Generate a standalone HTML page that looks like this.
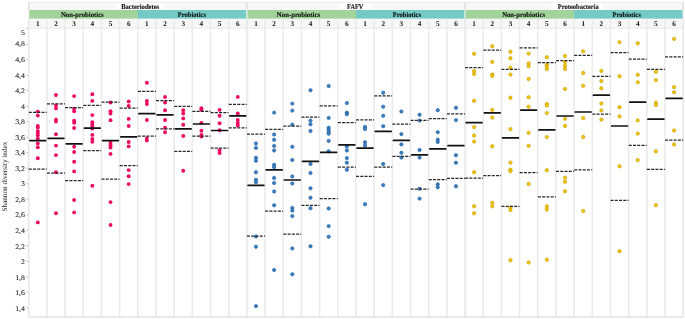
<!DOCTYPE html><html><head><meta charset="utf-8"><style>
html,body{margin:0;padding:0;background:#fff;width:685px;height:319px;overflow:hidden;}
svg{display:block;will-change:transform;}
text{text-rendering:geometricPrecision;}
.ser{font-family:"Liberation Serif",serif;font-weight:bold;}
.serr{font-family:"Liberation Serif",serif;}
.san{font-family:"Liberation Sans",sans-serif;}
</style></head><body>
<svg width="685" height="319" viewBox="0 0 685 319">
<rect x="0" y="0" width="685" height="319" fill="#fff"/>
<rect x="28.70" y="2.0" width="654.48" height="8.0" fill="#f8f8f8"/>
<rect x="116.5" y="3" width="47.0" height="6.8" rx="2" fill="#fff"/>
<rect x="339.5" y="3" width="32.0" height="6.8" rx="2" fill="#fff"/>
<rect x="551.5" y="3" width="51.5" height="6.8" rx="2" fill="#fff"/>
<rect x="28.70" y="10.0" width="110.08" height="8.8" fill="#a2d39b"/>
<rect x="137.78" y="10.0" width="109.08" height="8.8" fill="#74cbc6"/>
<rect x="246.86" y="10.0" width="110.08" height="8.8" fill="#a2d39b"/>
<rect x="355.94" y="10.0" width="109.08" height="8.8" fill="#74cbc6"/>
<rect x="465.02" y="10.0" width="110.08" height="8.8" fill="#a2d39b"/>
<rect x="574.10" y="10.0" width="109.08" height="8.8" fill="#74cbc6"/>
<rect x="28.70" y="18.8" width="654.48" height="8.8" fill="#f7f7f7"/>
<rect x="27.90" y="2.0" width="1.6" height="8.00" fill="#e0e0e0"/>
<rect x="28.10" y="10.0" width="1.2" height="8.80" fill="#eef5ee"/>
<rect x="27.90" y="18.8" width="1.6" height="298.20" fill="#e8e8e8"/>
<rect x="46.08" y="18.8" width="1.6" height="298.20" fill="#ebebeb"/>
<rect x="64.26" y="18.8" width="1.6" height="298.20" fill="#ebebeb"/>
<rect x="82.44" y="18.8" width="1.6" height="298.20" fill="#ebebeb"/>
<rect x="100.62" y="18.8" width="1.6" height="298.20" fill="#ebebeb"/>
<rect x="118.80" y="18.8" width="1.6" height="298.20" fill="#ebebeb"/>
<rect x="136.98" y="18.8" width="1.6" height="298.20" fill="#ebebeb"/>
<rect x="155.16" y="18.8" width="1.6" height="298.20" fill="#ebebeb"/>
<rect x="173.34" y="18.8" width="1.6" height="298.20" fill="#ebebeb"/>
<rect x="191.52" y="18.8" width="1.6" height="298.20" fill="#ebebeb"/>
<rect x="209.70" y="18.8" width="1.6" height="298.20" fill="#ebebeb"/>
<rect x="227.88" y="18.8" width="1.6" height="298.20" fill="#ebebeb"/>
<rect x="246.06" y="2.0" width="1.6" height="8.00" fill="#e0e0e0"/>
<rect x="246.26" y="10.0" width="1.2" height="8.80" fill="#eef5ee"/>
<rect x="246.06" y="18.8" width="1.6" height="298.20" fill="#e8e8e8"/>
<rect x="247.66" y="27.6" width="0.7" height="289.40" fill="#f2f2f2"/>
<rect x="264.24" y="18.8" width="1.6" height="298.20" fill="#ebebeb"/>
<rect x="282.42" y="18.8" width="1.6" height="298.20" fill="#ebebeb"/>
<rect x="300.60" y="18.8" width="1.6" height="298.20" fill="#ebebeb"/>
<rect x="318.78" y="18.8" width="1.6" height="298.20" fill="#ebebeb"/>
<rect x="336.96" y="18.8" width="1.6" height="298.20" fill="#ebebeb"/>
<rect x="355.14" y="18.8" width="1.6" height="298.20" fill="#ebebeb"/>
<rect x="373.32" y="18.8" width="1.6" height="298.20" fill="#ebebeb"/>
<rect x="391.50" y="18.8" width="1.6" height="298.20" fill="#ebebeb"/>
<rect x="409.68" y="18.8" width="1.6" height="298.20" fill="#ebebeb"/>
<rect x="427.86" y="18.8" width="1.6" height="298.20" fill="#ebebeb"/>
<rect x="446.04" y="18.8" width="1.6" height="298.20" fill="#ebebeb"/>
<rect x="464.22" y="2.0" width="1.6" height="8.00" fill="#e0e0e0"/>
<rect x="464.42" y="10.0" width="1.2" height="8.80" fill="#eef5ee"/>
<rect x="464.22" y="18.8" width="1.6" height="298.20" fill="#e8e8e8"/>
<rect x="465.82" y="27.6" width="0.7" height="289.40" fill="#f2f2f2"/>
<rect x="482.40" y="18.8" width="1.6" height="298.20" fill="#ebebeb"/>
<rect x="500.58" y="18.8" width="1.6" height="298.20" fill="#ebebeb"/>
<rect x="518.76" y="18.8" width="1.6" height="298.20" fill="#ebebeb"/>
<rect x="536.94" y="18.8" width="1.6" height="298.20" fill="#ebebeb"/>
<rect x="555.12" y="18.8" width="1.6" height="298.20" fill="#ebebeb"/>
<rect x="573.30" y="18.8" width="1.6" height="298.20" fill="#ebebeb"/>
<rect x="591.48" y="18.8" width="1.6" height="298.20" fill="#ebebeb"/>
<rect x="609.66" y="18.8" width="1.6" height="298.20" fill="#ebebeb"/>
<rect x="627.84" y="18.8" width="1.6" height="298.20" fill="#ebebeb"/>
<rect x="646.02" y="18.8" width="1.6" height="298.20" fill="#ebebeb"/>
<rect x="664.20" y="18.8" width="1.6" height="298.20" fill="#ebebeb"/>
<rect x="682.38" y="2.0" width="1.6" height="8.00" fill="#e0e0e0"/>
<rect x="682.58" y="10.0" width="1.2" height="8.80" fill="#eef5ee"/>
<rect x="682.38" y="18.8" width="1.6" height="298.20" fill="#e8e8e8"/>
<rect x="28.70" y="2.0" width="654.48" height="0.8" fill="#e6e6e6"/>
<rect x="28.70" y="27.6" width="654.48" height="0.9" fill="#e4e4e4"/>
<rect x="28.70" y="316.4" width="654.48" height="1.2" fill="#dcdcdc"/>
<text class="ser" x="121.15" y="8.7" font-size="7.1" textLength="38.0" lengthAdjust="spacingAndGlyphs" fill="#111" stroke="#111" stroke-width="0.12">Bacteriodetes</text>
<text class="ser" x="347.05" y="8.7" font-size="7.1" textLength="16.4" lengthAdjust="spacingAndGlyphs" fill="#111" stroke="#111" stroke-width="0.12">FAFV</text>
<text class="ser" x="557.85" y="8.7" font-size="7.1" textLength="40.9" lengthAdjust="spacingAndGlyphs" fill="#111" stroke="#111" stroke-width="0.12">Proteobacteria</text>
<text class="ser" x="60.95" y="16.9" font-size="7.1" textLength="42.80" lengthAdjust="spacingAndGlyphs" fill="#111" stroke="#111" stroke-width="0.12">Non-probiotics</text>
<text class="ser" x="177.85" y="16.9" font-size="7.1" textLength="28.10" lengthAdjust="spacingAndGlyphs" fill="#111" stroke="#111" stroke-width="0.12">Probiotics</text>
<text class="ser" x="276.85" y="16.9" font-size="7.1" textLength="43.20" lengthAdjust="spacingAndGlyphs" fill="#111" stroke="#111" stroke-width="0.12">Non-probiotics</text>
<text class="ser" x="392.85" y="16.9" font-size="7.1" textLength="28.10" lengthAdjust="spacingAndGlyphs" fill="#111" stroke="#111" stroke-width="0.12">Probiotics</text>
<text class="ser" x="502.15" y="16.9" font-size="7.1" textLength="42.90" lengthAdjust="spacingAndGlyphs" fill="#111" stroke="#111" stroke-width="0.12">Non-probiotics</text>
<text class="ser" x="612.45" y="16.9" font-size="7.1" textLength="28.30" lengthAdjust="spacingAndGlyphs" fill="#111" stroke="#111" stroke-width="0.12">Probiotics</text>
<text class="ser" x="37.79" y="26.1" font-size="7.2" text-anchor="middle" fill="#151515">1</text>
<text class="ser" x="55.97" y="26.1" font-size="7.2" text-anchor="middle" fill="#151515">2</text>
<text class="ser" x="74.15" y="26.1" font-size="7.2" text-anchor="middle" fill="#151515">3</text>
<text class="ser" x="92.33" y="26.1" font-size="7.2" text-anchor="middle" fill="#151515">4</text>
<text class="ser" x="110.51" y="26.1" font-size="7.2" text-anchor="middle" fill="#151515">5</text>
<text class="ser" x="128.69" y="26.1" font-size="7.2" text-anchor="middle" fill="#151515">6</text>
<text class="ser" x="146.87" y="26.1" font-size="7.2" text-anchor="middle" fill="#151515">1</text>
<text class="ser" x="165.05" y="26.1" font-size="7.2" text-anchor="middle" fill="#151515">2</text>
<text class="ser" x="183.23" y="26.1" font-size="7.2" text-anchor="middle" fill="#151515">3</text>
<text class="ser" x="201.41" y="26.1" font-size="7.2" text-anchor="middle" fill="#151515">4</text>
<text class="ser" x="219.59" y="26.1" font-size="7.2" text-anchor="middle" fill="#151515">5</text>
<text class="ser" x="237.77" y="26.1" font-size="7.2" text-anchor="middle" fill="#151515">6</text>
<text class="ser" x="255.95" y="26.1" font-size="7.2" text-anchor="middle" fill="#151515">1</text>
<text class="ser" x="274.13" y="26.1" font-size="7.2" text-anchor="middle" fill="#151515">2</text>
<text class="ser" x="292.31" y="26.1" font-size="7.2" text-anchor="middle" fill="#151515">3</text>
<text class="ser" x="310.49" y="26.1" font-size="7.2" text-anchor="middle" fill="#151515">4</text>
<text class="ser" x="328.67" y="26.1" font-size="7.2" text-anchor="middle" fill="#151515">5</text>
<text class="ser" x="346.85" y="26.1" font-size="7.2" text-anchor="middle" fill="#151515">6</text>
<text class="ser" x="365.03" y="26.1" font-size="7.2" text-anchor="middle" fill="#151515">1</text>
<text class="ser" x="383.21" y="26.1" font-size="7.2" text-anchor="middle" fill="#151515">2</text>
<text class="ser" x="401.39" y="26.1" font-size="7.2" text-anchor="middle" fill="#151515">3</text>
<text class="ser" x="419.57" y="26.1" font-size="7.2" text-anchor="middle" fill="#151515">4</text>
<text class="ser" x="437.75" y="26.1" font-size="7.2" text-anchor="middle" fill="#151515">5</text>
<text class="ser" x="455.93" y="26.1" font-size="7.2" text-anchor="middle" fill="#151515">6</text>
<text class="ser" x="474.11" y="26.1" font-size="7.2" text-anchor="middle" fill="#151515">1</text>
<text class="ser" x="492.29" y="26.1" font-size="7.2" text-anchor="middle" fill="#151515">2</text>
<text class="ser" x="510.47" y="26.1" font-size="7.2" text-anchor="middle" fill="#151515">3</text>
<text class="ser" x="528.65" y="26.1" font-size="7.2" text-anchor="middle" fill="#151515">4</text>
<text class="ser" x="546.83" y="26.1" font-size="7.2" text-anchor="middle" fill="#151515">5</text>
<text class="ser" x="565.01" y="26.1" font-size="7.2" text-anchor="middle" fill="#151515">6</text>
<text class="ser" x="583.19" y="26.1" font-size="7.2" text-anchor="middle" fill="#151515">1</text>
<text class="ser" x="601.37" y="26.1" font-size="7.2" text-anchor="middle" fill="#151515">2</text>
<text class="ser" x="619.55" y="26.1" font-size="7.2" text-anchor="middle" fill="#151515">3</text>
<text class="ser" x="637.73" y="26.1" font-size="7.2" text-anchor="middle" fill="#151515">4</text>
<text class="ser" x="655.91" y="26.1" font-size="7.2" text-anchor="middle" fill="#151515">5</text>
<text class="ser" x="674.09" y="26.1" font-size="7.2" text-anchor="middle" fill="#151515">6</text>
<rect x="26.2" y="28.10" width="2.2" height="1" fill="#c8c8c8"/>
<text class="serr" x="0" y="0" transform="translate(25.0,35.40) scale(1.12,1)" font-size="7.0" text-anchor="end" fill="#1a1a1a" stroke="#1a1a1a" stroke-width="0.08">5</text>
<rect x="26.2" y="43.62" width="2.2" height="1" fill="#c8c8c8"/>
<text class="serr" x="0" y="0" transform="translate(25.0,46.47) scale(1.12,1)" font-size="7.0" text-anchor="end" fill="#1a1a1a" stroke="#1a1a1a" stroke-width="0.08">4,8</text>
<rect x="26.2" y="59.14" width="2.2" height="1" fill="#c8c8c8"/>
<text class="serr" x="0" y="0" transform="translate(25.0,61.99) scale(1.12,1)" font-size="7.0" text-anchor="end" fill="#1a1a1a" stroke="#1a1a1a" stroke-width="0.08">4,6</text>
<rect x="26.2" y="74.66" width="2.2" height="1" fill="#c8c8c8"/>
<text class="serr" x="0" y="0" transform="translate(25.0,77.51) scale(1.12,1)" font-size="7.0" text-anchor="end" fill="#1a1a1a" stroke="#1a1a1a" stroke-width="0.08">4,4</text>
<rect x="26.2" y="90.18" width="2.2" height="1" fill="#c8c8c8"/>
<text class="serr" x="0" y="0" transform="translate(25.0,93.03) scale(1.12,1)" font-size="7.0" text-anchor="end" fill="#1a1a1a" stroke="#1a1a1a" stroke-width="0.08">4,2</text>
<rect x="26.2" y="105.70" width="2.2" height="1" fill="#c8c8c8"/>
<text class="serr" x="0" y="0" transform="translate(25.0,108.55) scale(1.12,1)" font-size="7.0" text-anchor="end" fill="#1a1a1a" stroke="#1a1a1a" stroke-width="0.08">4</text>
<rect x="26.2" y="121.22" width="2.2" height="1" fill="#c8c8c8"/>
<text class="serr" x="0" y="0" transform="translate(25.0,124.07) scale(1.12,1)" font-size="7.0" text-anchor="end" fill="#1a1a1a" stroke="#1a1a1a" stroke-width="0.08">3,8</text>
<rect x="26.2" y="136.74" width="2.2" height="1" fill="#c8c8c8"/>
<text class="serr" x="0" y="0" transform="translate(25.0,139.59) scale(1.12,1)" font-size="7.0" text-anchor="end" fill="#1a1a1a" stroke="#1a1a1a" stroke-width="0.08">3,6</text>
<rect x="26.2" y="152.26" width="2.2" height="1" fill="#c8c8c8"/>
<text class="serr" x="0" y="0" transform="translate(25.0,155.11) scale(1.12,1)" font-size="7.0" text-anchor="end" fill="#1a1a1a" stroke="#1a1a1a" stroke-width="0.08">3,4</text>
<rect x="26.2" y="167.78" width="2.2" height="1" fill="#c8c8c8"/>
<text class="serr" x="0" y="0" transform="translate(25.0,170.63) scale(1.12,1)" font-size="7.0" text-anchor="end" fill="#1a1a1a" stroke="#1a1a1a" stroke-width="0.08">3,2</text>
<rect x="26.2" y="183.30" width="2.2" height="1" fill="#c8c8c8"/>
<text class="serr" x="0" y="0" transform="translate(25.0,186.15) scale(1.12,1)" font-size="7.0" text-anchor="end" fill="#1a1a1a" stroke="#1a1a1a" stroke-width="0.08">3</text>
<rect x="26.2" y="198.82" width="2.2" height="1" fill="#c8c8c8"/>
<text class="serr" x="0" y="0" transform="translate(25.0,201.75) scale(1.12,1)" font-size="7.0" text-anchor="end" fill="#1a1a1a" stroke="#1a1a1a" stroke-width="0.08">2,8</text>
<rect x="26.2" y="214.34" width="2.2" height="1" fill="#c8c8c8"/>
<text class="serr" x="0" y="0" transform="translate(25.0,217.34) scale(1.12,1)" font-size="7.0" text-anchor="end" fill="#1a1a1a" stroke="#1a1a1a" stroke-width="0.08">2,6</text>
<rect x="26.2" y="229.86" width="2.2" height="1" fill="#c8c8c8"/>
<text class="serr" x="0" y="0" transform="translate(25.0,232.94) scale(1.12,1)" font-size="7.0" text-anchor="end" fill="#1a1a1a" stroke="#1a1a1a" stroke-width="0.08">2,4</text>
<rect x="26.2" y="245.38" width="2.2" height="1" fill="#c8c8c8"/>
<text class="serr" x="0" y="0" transform="translate(25.0,248.53) scale(1.12,1)" font-size="7.0" text-anchor="end" fill="#1a1a1a" stroke="#1a1a1a" stroke-width="0.08">2,2</text>
<rect x="26.2" y="260.90" width="2.2" height="1" fill="#c8c8c8"/>
<text class="serr" x="0" y="0" transform="translate(25.0,264.12) scale(1.12,1)" font-size="7.0" text-anchor="end" fill="#1a1a1a" stroke="#1a1a1a" stroke-width="0.08">2</text>
<rect x="26.2" y="276.42" width="2.2" height="1" fill="#c8c8c8"/>
<text class="serr" x="0" y="0" transform="translate(25.0,279.72) scale(1.12,1)" font-size="7.0" text-anchor="end" fill="#1a1a1a" stroke="#1a1a1a" stroke-width="0.08">1,8</text>
<rect x="26.2" y="291.94" width="2.2" height="1" fill="#c8c8c8"/>
<text class="serr" x="0" y="0" transform="translate(25.0,295.31) scale(1.12,1)" font-size="7.0" text-anchor="end" fill="#1a1a1a" stroke="#1a1a1a" stroke-width="0.08">1,6</text>
<rect x="26.2" y="307.46" width="2.2" height="1" fill="#c8c8c8"/>
<text class="serr" x="0" y="0" transform="translate(25.0,310.91) scale(1.12,1)" font-size="7.0" text-anchor="end" fill="#1a1a1a" stroke="#1a1a1a" stroke-width="0.08">1,4</text>
<text class="serr" x="-34.9" y="0" font-size="7.4" textLength="69.8" lengthAdjust="spacingAndGlyphs" fill="#111" transform="translate(6.5,176.6) rotate(-90)">Shannon diversity index</text>
<circle cx="37.79" cy="111.60" r="1.95" fill="#ec0b63"/>
<circle cx="37.79" cy="115.60" r="1.95" fill="#ec0b63"/>
<circle cx="37.79" cy="125.90" r="1.95" fill="#ec0b63"/>
<circle cx="37.79" cy="127.60" r="1.95" fill="#ec0b63"/>
<circle cx="37.79" cy="131.10" r="1.95" fill="#ec0b63"/>
<circle cx="37.79" cy="132.90" r="1.95" fill="#ec0b63"/>
<circle cx="37.79" cy="135.30" r="1.95" fill="#ec0b63"/>
<circle cx="37.79" cy="138.60" r="1.95" fill="#ec0b63"/>
<circle cx="37.79" cy="143.40" r="1.95" fill="#ec0b63"/>
<circle cx="37.79" cy="147.30" r="1.95" fill="#ec0b63"/>
<circle cx="37.79" cy="158.30" r="1.95" fill="#ec0b63"/>
<circle cx="37.79" cy="222.40" r="1.95" fill="#ec0b63"/>
<line x1="28.80" y1="112.30" x2="46.78" y2="112.30" stroke="#262626" stroke-width="1.25" stroke-dasharray="3 1.25"/>
<line x1="28.80" y1="169.10" x2="46.78" y2="169.10" stroke="#262626" stroke-width="1.25" stroke-dasharray="3 1.25"/>
<line x1="29.85" y1="140.60" x2="45.73" y2="140.60" stroke="#111" stroke-width="1.7" stroke-linecap="round"/>
<circle cx="55.97" cy="95.00" r="1.95" fill="#ec0b63"/>
<circle cx="55.97" cy="105.50" r="1.95" fill="#ec0b63"/>
<circle cx="55.97" cy="108.40" r="1.95" fill="#ec0b63"/>
<circle cx="55.97" cy="119.80" r="1.95" fill="#ec0b63"/>
<circle cx="55.97" cy="121.60" r="1.95" fill="#ec0b63"/>
<circle cx="55.97" cy="134.20" r="1.95" fill="#ec0b63"/>
<circle cx="55.97" cy="145.60" r="1.95" fill="#ec0b63"/>
<circle cx="55.97" cy="155.10" r="1.95" fill="#ec0b63"/>
<circle cx="55.97" cy="172.20" r="1.95" fill="#ec0b63"/>
<circle cx="55.97" cy="213.20" r="1.95" fill="#ec0b63"/>
<line x1="46.98" y1="103.80" x2="64.96" y2="103.80" stroke="#262626" stroke-width="1.25" stroke-dasharray="3 1.25"/>
<line x1="46.98" y1="173.00" x2="64.96" y2="173.00" stroke="#262626" stroke-width="1.25" stroke-dasharray="3 1.25"/>
<line x1="48.03" y1="138.30" x2="63.91" y2="138.30" stroke="#111" stroke-width="1.7" stroke-linecap="round"/>
<circle cx="74.15" cy="96.10" r="1.95" fill="#ec0b63"/>
<circle cx="74.15" cy="108.60" r="1.95" fill="#ec0b63"/>
<circle cx="74.15" cy="111.30" r="1.95" fill="#ec0b63"/>
<circle cx="74.15" cy="120.80" r="1.95" fill="#ec0b63"/>
<circle cx="74.15" cy="122.70" r="1.95" fill="#ec0b63"/>
<circle cx="74.15" cy="128.00" r="1.95" fill="#ec0b63"/>
<circle cx="74.15" cy="146.70" r="1.95" fill="#ec0b63"/>
<circle cx="74.15" cy="152.00" r="1.95" fill="#ec0b63"/>
<circle cx="74.15" cy="161.80" r="1.95" fill="#ec0b63"/>
<circle cx="74.15" cy="171.40" r="1.95" fill="#ec0b63"/>
<circle cx="74.15" cy="200.00" r="1.95" fill="#ec0b63"/>
<circle cx="74.15" cy="212.40" r="1.95" fill="#ec0b63"/>
<line x1="65.16" y1="107.60" x2="83.14" y2="107.60" stroke="#262626" stroke-width="1.25" stroke-dasharray="3 1.25"/>
<line x1="65.16" y1="180.60" x2="83.14" y2="180.60" stroke="#262626" stroke-width="1.25" stroke-dasharray="3 1.25"/>
<line x1="66.21" y1="143.80" x2="82.09" y2="143.80" stroke="#111" stroke-width="1.7" stroke-linecap="round"/>
<circle cx="92.33" cy="94.30" r="1.95" fill="#ec0b63"/>
<circle cx="92.33" cy="100.90" r="1.95" fill="#ec0b63"/>
<circle cx="92.33" cy="115.10" r="1.95" fill="#ec0b63"/>
<circle cx="92.33" cy="122.20" r="1.95" fill="#ec0b63"/>
<circle cx="92.33" cy="124.40" r="1.95" fill="#ec0b63"/>
<circle cx="92.33" cy="126.70" r="1.95" fill="#ec0b63"/>
<circle cx="92.33" cy="128.50" r="1.95" fill="#ec0b63"/>
<circle cx="92.33" cy="134.90" r="1.95" fill="#ec0b63"/>
<circle cx="92.33" cy="139.00" r="1.95" fill="#ec0b63"/>
<circle cx="92.33" cy="141.80" r="1.95" fill="#ec0b63"/>
<circle cx="92.33" cy="185.70" r="1.95" fill="#ec0b63"/>
<line x1="83.34" y1="105.40" x2="101.32" y2="105.40" stroke="#262626" stroke-width="1.25" stroke-dasharray="3 1.25"/>
<line x1="83.34" y1="150.70" x2="101.32" y2="150.70" stroke="#262626" stroke-width="1.25" stroke-dasharray="3 1.25"/>
<line x1="84.39" y1="128.10" x2="100.27" y2="128.10" stroke="#111" stroke-width="1.7" stroke-linecap="round"/>
<circle cx="110.51" cy="102.50" r="1.95" fill="#ec0b63"/>
<circle cx="110.51" cy="111.20" r="1.95" fill="#ec0b63"/>
<circle cx="110.51" cy="113.50" r="1.95" fill="#ec0b63"/>
<circle cx="110.51" cy="120.20" r="1.95" fill="#ec0b63"/>
<circle cx="110.51" cy="142.70" r="1.95" fill="#ec0b63"/>
<circle cx="110.51" cy="145.30" r="1.95" fill="#ec0b63"/>
<circle cx="110.51" cy="147.60" r="1.95" fill="#ec0b63"/>
<circle cx="110.51" cy="153.90" r="1.95" fill="#ec0b63"/>
<circle cx="110.51" cy="202.10" r="1.95" fill="#ec0b63"/>
<circle cx="110.51" cy="225.00" r="1.95" fill="#ec0b63"/>
<line x1="101.52" y1="102.10" x2="119.50" y2="102.10" stroke="#262626" stroke-width="1.25" stroke-dasharray="3 1.25"/>
<line x1="101.52" y1="179.00" x2="119.50" y2="179.00" stroke="#262626" stroke-width="1.25" stroke-dasharray="3 1.25"/>
<line x1="102.57" y1="140.60" x2="118.45" y2="140.60" stroke="#111" stroke-width="1.7" stroke-linecap="round"/>
<circle cx="128.69" cy="101.50" r="1.95" fill="#ec0b63"/>
<circle cx="128.69" cy="106.00" r="1.95" fill="#ec0b63"/>
<circle cx="128.69" cy="118.90" r="1.95" fill="#ec0b63"/>
<circle cx="128.69" cy="126.00" r="1.95" fill="#ec0b63"/>
<circle cx="128.69" cy="142.00" r="1.95" fill="#ec0b63"/>
<circle cx="128.69" cy="146.40" r="1.95" fill="#ec0b63"/>
<circle cx="128.69" cy="170.10" r="1.95" fill="#ec0b63"/>
<circle cx="128.69" cy="176.20" r="1.95" fill="#ec0b63"/>
<circle cx="128.69" cy="184.10" r="1.95" fill="#ec0b63"/>
<line x1="119.70" y1="108.10" x2="137.68" y2="108.10" stroke="#262626" stroke-width="1.25" stroke-dasharray="3 1.25"/>
<line x1="119.70" y1="165.60" x2="137.68" y2="165.60" stroke="#262626" stroke-width="1.25" stroke-dasharray="3 1.25"/>
<line x1="120.75" y1="136.80" x2="136.63" y2="136.80" stroke="#111" stroke-width="1.7" stroke-linecap="round"/>
<circle cx="146.87" cy="82.80" r="1.95" fill="#ec0b63"/>
<circle cx="146.87" cy="100.90" r="1.95" fill="#ec0b63"/>
<circle cx="146.87" cy="104.00" r="1.95" fill="#ec0b63"/>
<circle cx="146.87" cy="120.00" r="1.95" fill="#ec0b63"/>
<circle cx="146.87" cy="138.10" r="1.95" fill="#ec0b63"/>
<circle cx="146.87" cy="140.50" r="1.95" fill="#ec0b63"/>
<line x1="137.88" y1="91.40" x2="155.86" y2="91.40" stroke="#262626" stroke-width="1.25" stroke-dasharray="3 1.25"/>
<line x1="137.88" y1="136.20" x2="155.86" y2="136.20" stroke="#262626" stroke-width="1.25" stroke-dasharray="3 1.25"/>
<line x1="138.93" y1="113.70" x2="154.81" y2="113.70" stroke="#111" stroke-width="1.7" stroke-linecap="round"/>
<circle cx="165.05" cy="97.00" r="1.95" fill="#ec0b63"/>
<circle cx="165.05" cy="102.50" r="1.95" fill="#ec0b63"/>
<circle cx="165.05" cy="110.30" r="1.95" fill="#ec0b63"/>
<circle cx="165.05" cy="120.00" r="1.95" fill="#ec0b63"/>
<circle cx="165.05" cy="127.70" r="1.95" fill="#ec0b63"/>
<circle cx="165.05" cy="132.20" r="1.95" fill="#ec0b63"/>
<line x1="156.06" y1="100.50" x2="174.04" y2="100.50" stroke="#262626" stroke-width="1.25" stroke-dasharray="3 1.25"/>
<line x1="156.06" y1="128.80" x2="174.04" y2="128.80" stroke="#262626" stroke-width="1.25" stroke-dasharray="3 1.25"/>
<line x1="157.11" y1="114.80" x2="172.99" y2="114.80" stroke="#111" stroke-width="1.7" stroke-linecap="round"/>
<circle cx="183.23" cy="110.30" r="1.95" fill="#ec0b63"/>
<circle cx="183.23" cy="113.50" r="1.95" fill="#ec0b63"/>
<circle cx="183.23" cy="118.40" r="1.95" fill="#ec0b63"/>
<circle cx="183.23" cy="124.80" r="1.95" fill="#ec0b63"/>
<circle cx="183.23" cy="136.00" r="1.95" fill="#ec0b63"/>
<circle cx="183.23" cy="170.80" r="1.95" fill="#ec0b63"/>
<line x1="174.24" y1="106.30" x2="192.22" y2="106.30" stroke="#262626" stroke-width="1.25" stroke-dasharray="3 1.25"/>
<line x1="174.24" y1="151.30" x2="192.22" y2="151.30" stroke="#262626" stroke-width="1.25" stroke-dasharray="3 1.25"/>
<line x1="175.29" y1="128.80" x2="191.17" y2="128.80" stroke="#111" stroke-width="1.7" stroke-linecap="round"/>
<circle cx="201.41" cy="108.30" r="1.95" fill="#ec0b63"/>
<circle cx="201.41" cy="109.90" r="1.95" fill="#ec0b63"/>
<circle cx="201.41" cy="122.90" r="1.95" fill="#ec0b63"/>
<circle cx="201.41" cy="130.70" r="1.95" fill="#ec0b63"/>
<circle cx="201.41" cy="134.90" r="1.95" fill="#ec0b63"/>
<circle cx="201.41" cy="136.50" r="1.95" fill="#ec0b63"/>
<line x1="192.42" y1="111.40" x2="210.40" y2="111.40" stroke="#262626" stroke-width="1.25" stroke-dasharray="3 1.25"/>
<line x1="192.42" y1="136.20" x2="210.40" y2="136.20" stroke="#262626" stroke-width="1.25" stroke-dasharray="3 1.25"/>
<line x1="193.47" y1="124.00" x2="209.35" y2="124.00" stroke="#111" stroke-width="1.7" stroke-linecap="round"/>
<circle cx="219.59" cy="109.90" r="1.95" fill="#ec0b63"/>
<circle cx="219.59" cy="115.80" r="1.95" fill="#ec0b63"/>
<circle cx="219.59" cy="123.20" r="1.95" fill="#ec0b63"/>
<circle cx="219.59" cy="130.20" r="1.95" fill="#ec0b63"/>
<circle cx="219.59" cy="150.30" r="1.95" fill="#ec0b63"/>
<circle cx="219.59" cy="153.10" r="1.95" fill="#ec0b63"/>
<line x1="210.60" y1="112.50" x2="228.58" y2="112.50" stroke="#262626" stroke-width="1.25" stroke-dasharray="3 1.25"/>
<line x1="210.60" y1="148.10" x2="228.58" y2="148.10" stroke="#262626" stroke-width="1.25" stroke-dasharray="3 1.25"/>
<line x1="211.65" y1="130.50" x2="227.53" y2="130.50" stroke="#111" stroke-width="1.7" stroke-linecap="round"/>
<circle cx="237.77" cy="96.90" r="1.95" fill="#ec0b63"/>
<circle cx="237.77" cy="113.50" r="1.95" fill="#ec0b63"/>
<circle cx="237.77" cy="120.00" r="1.95" fill="#ec0b63"/>
<circle cx="237.77" cy="122.90" r="1.95" fill="#ec0b63"/>
<circle cx="237.77" cy="125.50" r="1.95" fill="#ec0b63"/>
<line x1="228.78" y1="104.40" x2="246.76" y2="104.40" stroke="#262626" stroke-width="1.25" stroke-dasharray="3 1.25"/>
<line x1="228.78" y1="127.90" x2="246.76" y2="127.90" stroke="#262626" stroke-width="1.25" stroke-dasharray="3 1.25"/>
<line x1="229.83" y1="115.80" x2="245.71" y2="115.80" stroke="#111" stroke-width="1.7" stroke-linecap="round"/>
<circle cx="255.95" cy="143.50" r="1.68" fill="#3a80c4" stroke="#1f5c9c" stroke-width="0.6"/>
<circle cx="255.95" cy="147.90" r="1.68" fill="#3a80c4" stroke="#1f5c9c" stroke-width="0.6"/>
<circle cx="255.95" cy="157.80" r="1.68" fill="#3a80c4" stroke="#1f5c9c" stroke-width="0.6"/>
<circle cx="255.95" cy="160.70" r="1.68" fill="#3a80c4" stroke="#1f5c9c" stroke-width="0.6"/>
<circle cx="255.95" cy="172.30" r="1.68" fill="#3a80c4" stroke="#1f5c9c" stroke-width="0.6"/>
<circle cx="255.95" cy="179.80" r="1.68" fill="#3a80c4" stroke="#1f5c9c" stroke-width="0.6"/>
<circle cx="255.95" cy="182.30" r="1.68" fill="#3a80c4" stroke="#1f5c9c" stroke-width="0.6"/>
<circle cx="255.95" cy="236.50" r="1.68" fill="#3a80c4" stroke="#1f5c9c" stroke-width="0.6"/>
<circle cx="255.95" cy="246.80" r="1.68" fill="#3a80c4" stroke="#1f5c9c" stroke-width="0.6"/>
<circle cx="255.95" cy="306.10" r="1.68" fill="#3a80c4" stroke="#1f5c9c" stroke-width="0.6"/>
<line x1="246.96" y1="134.20" x2="264.94" y2="134.20" stroke="#262626" stroke-width="1.25" stroke-dasharray="3 1.25"/>
<line x1="246.96" y1="236.20" x2="264.94" y2="236.20" stroke="#262626" stroke-width="1.25" stroke-dasharray="3 1.25"/>
<line x1="248.01" y1="185.40" x2="263.89" y2="185.40" stroke="#111" stroke-width="1.7" stroke-linecap="round"/>
<circle cx="274.13" cy="112.60" r="1.68" fill="#3a80c4" stroke="#1f5c9c" stroke-width="0.6"/>
<circle cx="274.13" cy="134.50" r="1.68" fill="#3a80c4" stroke="#1f5c9c" stroke-width="0.6"/>
<circle cx="274.13" cy="139.80" r="1.68" fill="#3a80c4" stroke="#1f5c9c" stroke-width="0.6"/>
<circle cx="274.13" cy="146.00" r="1.68" fill="#3a80c4" stroke="#1f5c9c" stroke-width="0.6"/>
<circle cx="274.13" cy="150.50" r="1.68" fill="#3a80c4" stroke="#1f5c9c" stroke-width="0.6"/>
<circle cx="274.13" cy="164.80" r="1.68" fill="#3a80c4" stroke="#1f5c9c" stroke-width="0.6"/>
<circle cx="274.13" cy="167.20" r="1.68" fill="#3a80c4" stroke="#1f5c9c" stroke-width="0.6"/>
<circle cx="274.13" cy="178.00" r="1.68" fill="#3a80c4" stroke="#1f5c9c" stroke-width="0.6"/>
<circle cx="274.13" cy="183.00" r="1.68" fill="#3a80c4" stroke="#1f5c9c" stroke-width="0.6"/>
<circle cx="274.13" cy="191.50" r="1.68" fill="#3a80c4" stroke="#1f5c9c" stroke-width="0.6"/>
<circle cx="274.13" cy="205.30" r="1.68" fill="#3a80c4" stroke="#1f5c9c" stroke-width="0.6"/>
<circle cx="274.13" cy="270.00" r="1.68" fill="#3a80c4" stroke="#1f5c9c" stroke-width="0.6"/>
<line x1="265.14" y1="129.40" x2="283.12" y2="129.40" stroke="#262626" stroke-width="1.25" stroke-dasharray="3 1.25"/>
<line x1="265.14" y1="211.10" x2="283.12" y2="211.10" stroke="#262626" stroke-width="1.25" stroke-dasharray="3 1.25"/>
<line x1="266.19" y1="169.90" x2="282.07" y2="169.90" stroke="#111" stroke-width="1.7" stroke-linecap="round"/>
<circle cx="292.31" cy="103.60" r="1.68" fill="#3a80c4" stroke="#1f5c9c" stroke-width="0.6"/>
<circle cx="292.31" cy="110.60" r="1.68" fill="#3a80c4" stroke="#1f5c9c" stroke-width="0.6"/>
<circle cx="292.31" cy="124.60" r="1.68" fill="#3a80c4" stroke="#1f5c9c" stroke-width="0.6"/>
<circle cx="292.31" cy="146.80" r="1.68" fill="#3a80c4" stroke="#1f5c9c" stroke-width="0.6"/>
<circle cx="292.31" cy="160.00" r="1.68" fill="#3a80c4" stroke="#1f5c9c" stroke-width="0.6"/>
<circle cx="292.31" cy="176.40" r="1.68" fill="#3a80c4" stroke="#1f5c9c" stroke-width="0.6"/>
<circle cx="292.31" cy="183.50" r="1.68" fill="#3a80c4" stroke="#1f5c9c" stroke-width="0.6"/>
<circle cx="292.31" cy="207.90" r="1.68" fill="#3a80c4" stroke="#1f5c9c" stroke-width="0.6"/>
<circle cx="292.31" cy="210.60" r="1.68" fill="#3a80c4" stroke="#1f5c9c" stroke-width="0.6"/>
<circle cx="292.31" cy="216.10" r="1.68" fill="#3a80c4" stroke="#1f5c9c" stroke-width="0.6"/>
<circle cx="292.31" cy="248.40" r="1.68" fill="#3a80c4" stroke="#1f5c9c" stroke-width="0.6"/>
<circle cx="292.31" cy="274.30" r="1.68" fill="#3a80c4" stroke="#1f5c9c" stroke-width="0.6"/>
<line x1="283.32" y1="126.20" x2="301.30" y2="126.20" stroke="#262626" stroke-width="1.25" stroke-dasharray="3 1.25"/>
<line x1="283.32" y1="234.10" x2="301.30" y2="234.10" stroke="#262626" stroke-width="1.25" stroke-dasharray="3 1.25"/>
<line x1="284.37" y1="180.00" x2="300.25" y2="180.00" stroke="#111" stroke-width="1.7" stroke-linecap="round"/>
<circle cx="310.49" cy="90.30" r="1.68" fill="#3a80c4" stroke="#1f5c9c" stroke-width="0.6"/>
<circle cx="310.49" cy="120.60" r="1.68" fill="#3a80c4" stroke="#1f5c9c" stroke-width="0.6"/>
<circle cx="310.49" cy="124.20" r="1.68" fill="#3a80c4" stroke="#1f5c9c" stroke-width="0.6"/>
<circle cx="310.49" cy="131.00" r="1.68" fill="#3a80c4" stroke="#1f5c9c" stroke-width="0.6"/>
<circle cx="310.49" cy="164.00" r="1.68" fill="#3a80c4" stroke="#1f5c9c" stroke-width="0.6"/>
<circle cx="310.49" cy="173.00" r="1.68" fill="#3a80c4" stroke="#1f5c9c" stroke-width="0.6"/>
<circle cx="310.49" cy="188.30" r="1.68" fill="#3a80c4" stroke="#1f5c9c" stroke-width="0.6"/>
<circle cx="310.49" cy="197.80" r="1.68" fill="#3a80c4" stroke="#1f5c9c" stroke-width="0.6"/>
<circle cx="310.49" cy="208.20" r="1.68" fill="#3a80c4" stroke="#1f5c9c" stroke-width="0.6"/>
<circle cx="310.49" cy="246.30" r="1.68" fill="#3a80c4" stroke="#1f5c9c" stroke-width="0.6"/>
<line x1="301.50" y1="117.10" x2="319.48" y2="117.10" stroke="#262626" stroke-width="1.25" stroke-dasharray="3 1.25"/>
<line x1="301.50" y1="205.30" x2="319.48" y2="205.30" stroke="#262626" stroke-width="1.25" stroke-dasharray="3 1.25"/>
<line x1="302.55" y1="161.40" x2="318.43" y2="161.40" stroke="#111" stroke-width="1.7" stroke-linecap="round"/>
<circle cx="328.67" cy="86.00" r="1.68" fill="#3a80c4" stroke="#1f5c9c" stroke-width="0.6"/>
<circle cx="328.67" cy="117.90" r="1.68" fill="#3a80c4" stroke="#1f5c9c" stroke-width="0.6"/>
<circle cx="328.67" cy="127.80" r="1.68" fill="#3a80c4" stroke="#1f5c9c" stroke-width="0.6"/>
<circle cx="328.67" cy="129.80" r="1.68" fill="#3a80c4" stroke="#1f5c9c" stroke-width="0.6"/>
<circle cx="328.67" cy="131.80" r="1.68" fill="#3a80c4" stroke="#1f5c9c" stroke-width="0.6"/>
<circle cx="328.67" cy="133.70" r="1.68" fill="#3a80c4" stroke="#1f5c9c" stroke-width="0.6"/>
<circle cx="328.67" cy="140.90" r="1.68" fill="#3a80c4" stroke="#1f5c9c" stroke-width="0.6"/>
<circle cx="328.67" cy="151.30" r="1.68" fill="#3a80c4" stroke="#1f5c9c" stroke-width="0.6"/>
<circle cx="328.67" cy="208.50" r="1.68" fill="#3a80c4" stroke="#1f5c9c" stroke-width="0.6"/>
<circle cx="328.67" cy="226.10" r="1.68" fill="#3a80c4" stroke="#1f5c9c" stroke-width="0.6"/>
<circle cx="328.67" cy="236.80" r="1.68" fill="#3a80c4" stroke="#1f5c9c" stroke-width="0.6"/>
<line x1="319.68" y1="105.80" x2="337.66" y2="105.80" stroke="#262626" stroke-width="1.25" stroke-dasharray="3 1.25"/>
<line x1="319.68" y1="198.60" x2="337.66" y2="198.60" stroke="#262626" stroke-width="1.25" stroke-dasharray="3 1.25"/>
<line x1="320.73" y1="152.40" x2="336.61" y2="152.40" stroke="#111" stroke-width="1.7" stroke-linecap="round"/>
<circle cx="346.85" cy="103.10" r="1.68" fill="#3a80c4" stroke="#1f5c9c" stroke-width="0.6"/>
<circle cx="346.85" cy="112.60" r="1.68" fill="#3a80c4" stroke="#1f5c9c" stroke-width="0.6"/>
<circle cx="346.85" cy="114.20" r="1.68" fill="#3a80c4" stroke="#1f5c9c" stroke-width="0.6"/>
<circle cx="346.85" cy="146.50" r="1.68" fill="#3a80c4" stroke="#1f5c9c" stroke-width="0.6"/>
<circle cx="346.85" cy="150.50" r="1.68" fill="#3a80c4" stroke="#1f5c9c" stroke-width="0.6"/>
<circle cx="346.85" cy="158.10" r="1.68" fill="#3a80c4" stroke="#1f5c9c" stroke-width="0.6"/>
<circle cx="346.85" cy="162.70" r="1.68" fill="#3a80c4" stroke="#1f5c9c" stroke-width="0.6"/>
<circle cx="346.85" cy="169.80" r="1.68" fill="#3a80c4" stroke="#1f5c9c" stroke-width="0.6"/>
<line x1="337.86" y1="122.50" x2="355.84" y2="122.50" stroke="#262626" stroke-width="1.25" stroke-dasharray="3 1.25"/>
<line x1="337.86" y1="167.20" x2="355.84" y2="167.20" stroke="#262626" stroke-width="1.25" stroke-dasharray="3 1.25"/>
<line x1="338.91" y1="144.90" x2="354.79" y2="144.90" stroke="#111" stroke-width="1.7" stroke-linecap="round"/>
<circle cx="365.03" cy="126.90" r="1.68" fill="#3a80c4" stroke="#1f5c9c" stroke-width="0.6"/>
<circle cx="365.03" cy="129.00" r="1.68" fill="#3a80c4" stroke="#1f5c9c" stroke-width="0.6"/>
<circle cx="365.03" cy="142.20" r="1.68" fill="#3a80c4" stroke="#1f5c9c" stroke-width="0.6"/>
<circle cx="365.03" cy="145.40" r="1.68" fill="#3a80c4" stroke="#1f5c9c" stroke-width="0.6"/>
<circle cx="365.03" cy="204.20" r="1.68" fill="#3a80c4" stroke="#1f5c9c" stroke-width="0.6"/>
<line x1="356.04" y1="119.80" x2="374.02" y2="119.80" stroke="#262626" stroke-width="1.25" stroke-dasharray="3 1.25"/>
<line x1="356.04" y1="176.40" x2="374.02" y2="176.40" stroke="#262626" stroke-width="1.25" stroke-dasharray="3 1.25"/>
<line x1="357.09" y1="148.10" x2="372.97" y2="148.10" stroke="#111" stroke-width="1.7" stroke-linecap="round"/>
<circle cx="383.21" cy="92.70" r="1.68" fill="#3a80c4" stroke="#1f5c9c" stroke-width="0.6"/>
<circle cx="383.21" cy="106.70" r="1.68" fill="#3a80c4" stroke="#1f5c9c" stroke-width="0.6"/>
<circle cx="383.21" cy="115.80" r="1.68" fill="#3a80c4" stroke="#1f5c9c" stroke-width="0.6"/>
<circle cx="383.21" cy="126.20" r="1.68" fill="#3a80c4" stroke="#1f5c9c" stroke-width="0.6"/>
<circle cx="383.21" cy="164.00" r="1.68" fill="#3a80c4" stroke="#1f5c9c" stroke-width="0.6"/>
<circle cx="383.21" cy="185.10" r="1.68" fill="#3a80c4" stroke="#1f5c9c" stroke-width="0.6"/>
<line x1="374.22" y1="95.90" x2="392.20" y2="95.90" stroke="#262626" stroke-width="1.25" stroke-dasharray="3 1.25"/>
<line x1="374.22" y1="167.20" x2="392.20" y2="167.20" stroke="#262626" stroke-width="1.25" stroke-dasharray="3 1.25"/>
<line x1="375.27" y1="131.40" x2="391.15" y2="131.40" stroke="#111" stroke-width="1.7" stroke-linecap="round"/>
<circle cx="401.39" cy="111.50" r="1.68" fill="#3a80c4" stroke="#1f5c9c" stroke-width="0.6"/>
<circle cx="401.39" cy="134.10" r="1.68" fill="#3a80c4" stroke="#1f5c9c" stroke-width="0.6"/>
<circle cx="401.39" cy="144.40" r="1.68" fill="#3a80c4" stroke="#1f5c9c" stroke-width="0.6"/>
<circle cx="401.39" cy="152.80" r="1.68" fill="#3a80c4" stroke="#1f5c9c" stroke-width="0.6"/>
<circle cx="401.39" cy="157.60" r="1.68" fill="#3a80c4" stroke="#1f5c9c" stroke-width="0.6"/>
<line x1="392.40" y1="124.20" x2="410.38" y2="124.20" stroke="#262626" stroke-width="1.25" stroke-dasharray="3 1.25"/>
<line x1="392.40" y1="156.30" x2="410.38" y2="156.30" stroke="#262626" stroke-width="1.25" stroke-dasharray="3 1.25"/>
<line x1="393.45" y1="140.40" x2="409.33" y2="140.40" stroke="#111" stroke-width="1.7" stroke-linecap="round"/>
<circle cx="419.57" cy="114.70" r="1.68" fill="#3a80c4" stroke="#1f5c9c" stroke-width="0.6"/>
<circle cx="419.57" cy="120.60" r="1.68" fill="#3a80c4" stroke="#1f5c9c" stroke-width="0.6"/>
<circle cx="419.57" cy="150.00" r="1.68" fill="#3a80c4" stroke="#1f5c9c" stroke-width="0.6"/>
<circle cx="419.57" cy="157.60" r="1.68" fill="#3a80c4" stroke="#1f5c9c" stroke-width="0.6"/>
<circle cx="419.57" cy="188.80" r="1.68" fill="#3a80c4" stroke="#1f5c9c" stroke-width="0.6"/>
<circle cx="419.57" cy="198.60" r="1.68" fill="#3a80c4" stroke="#1f5c9c" stroke-width="0.6"/>
<line x1="410.58" y1="120.30" x2="428.56" y2="120.30" stroke="#262626" stroke-width="1.25" stroke-dasharray="3 1.25"/>
<line x1="410.58" y1="189.10" x2="428.56" y2="189.10" stroke="#262626" stroke-width="1.25" stroke-dasharray="3 1.25"/>
<line x1="411.63" y1="154.80" x2="427.51" y2="154.80" stroke="#111" stroke-width="1.7" stroke-linecap="round"/>
<circle cx="437.75" cy="110.20" r="1.68" fill="#3a80c4" stroke="#1f5c9c" stroke-width="0.6"/>
<circle cx="437.75" cy="132.20" r="1.68" fill="#3a80c4" stroke="#1f5c9c" stroke-width="0.6"/>
<circle cx="437.75" cy="139.60" r="1.68" fill="#3a80c4" stroke="#1f5c9c" stroke-width="0.6"/>
<circle cx="437.75" cy="142.00" r="1.68" fill="#3a80c4" stroke="#1f5c9c" stroke-width="0.6"/>
<circle cx="437.75" cy="184.30" r="1.68" fill="#3a80c4" stroke="#1f5c9c" stroke-width="0.6"/>
<circle cx="437.75" cy="187.20" r="1.68" fill="#3a80c4" stroke="#1f5c9c" stroke-width="0.6"/>
<line x1="428.76" y1="118.70" x2="446.74" y2="118.70" stroke="#262626" stroke-width="1.25" stroke-dasharray="3 1.25"/>
<line x1="428.76" y1="179.50" x2="446.74" y2="179.50" stroke="#262626" stroke-width="1.25" stroke-dasharray="3 1.25"/>
<line x1="429.81" y1="148.90" x2="445.69" y2="148.90" stroke="#111" stroke-width="1.7" stroke-linecap="round"/>
<circle cx="455.93" cy="107.80" r="1.68" fill="#3a80c4" stroke="#1f5c9c" stroke-width="0.6"/>
<circle cx="455.93" cy="120.10" r="1.68" fill="#3a80c4" stroke="#1f5c9c" stroke-width="0.6"/>
<circle cx="455.93" cy="155.20" r="1.68" fill="#3a80c4" stroke="#1f5c9c" stroke-width="0.6"/>
<circle cx="455.93" cy="162.70" r="1.68" fill="#3a80c4" stroke="#1f5c9c" stroke-width="0.6"/>
<circle cx="455.93" cy="186.20" r="1.68" fill="#3a80c4" stroke="#1f5c9c" stroke-width="0.6"/>
<line x1="446.94" y1="113.90" x2="464.92" y2="113.90" stroke="#262626" stroke-width="1.25" stroke-dasharray="3 1.25"/>
<line x1="446.94" y1="178.40" x2="464.92" y2="178.40" stroke="#262626" stroke-width="1.25" stroke-dasharray="3 1.25"/>
<line x1="447.99" y1="145.70" x2="463.87" y2="145.70" stroke="#111" stroke-width="1.7" stroke-linecap="round"/>
<circle cx="474.11" cy="53.80" r="1.68" fill="#f3c800" stroke="#bf9800" stroke-width="0.6"/>
<circle cx="474.11" cy="71.00" r="1.68" fill="#f3c800" stroke="#bf9800" stroke-width="0.6"/>
<circle cx="474.11" cy="74.00" r="1.68" fill="#f3c800" stroke="#bf9800" stroke-width="0.6"/>
<circle cx="474.11" cy="100.80" r="1.68" fill="#f3c800" stroke="#bf9800" stroke-width="0.6"/>
<circle cx="474.11" cy="127.10" r="1.68" fill="#f3c800" stroke="#bf9800" stroke-width="0.6"/>
<circle cx="474.11" cy="135.50" r="1.68" fill="#f3c800" stroke="#bf9800" stroke-width="0.6"/>
<circle cx="474.11" cy="141.60" r="1.68" fill="#f3c800" stroke="#bf9800" stroke-width="0.6"/>
<circle cx="474.11" cy="172.20" r="1.68" fill="#f3c800" stroke="#bf9800" stroke-width="0.6"/>
<circle cx="474.11" cy="206.30" r="1.68" fill="#f3c800" stroke="#bf9800" stroke-width="0.6"/>
<circle cx="474.11" cy="213.30" r="1.68" fill="#f3c800" stroke="#bf9800" stroke-width="0.6"/>
<line x1="465.12" y1="67.50" x2="483.10" y2="67.50" stroke="#262626" stroke-width="1.25" stroke-dasharray="3 1.25"/>
<line x1="465.12" y1="178.10" x2="483.10" y2="178.10" stroke="#262626" stroke-width="1.25" stroke-dasharray="3 1.25"/>
<line x1="466.17" y1="122.70" x2="482.05" y2="122.70" stroke="#111" stroke-width="1.7" stroke-linecap="round"/>
<circle cx="492.29" cy="46.30" r="1.68" fill="#f3c800" stroke="#bf9800" stroke-width="0.6"/>
<circle cx="492.29" cy="61.90" r="1.68" fill="#f3c800" stroke="#bf9800" stroke-width="0.6"/>
<circle cx="492.29" cy="74.50" r="1.68" fill="#f3c800" stroke="#bf9800" stroke-width="0.6"/>
<circle cx="492.29" cy="75.90" r="1.68" fill="#f3c800" stroke="#bf9800" stroke-width="0.6"/>
<circle cx="492.29" cy="109.90" r="1.68" fill="#f3c800" stroke="#bf9800" stroke-width="0.6"/>
<circle cx="492.29" cy="117.60" r="1.68" fill="#f3c800" stroke="#bf9800" stroke-width="0.6"/>
<circle cx="492.29" cy="146.30" r="1.68" fill="#f3c800" stroke="#bf9800" stroke-width="0.6"/>
<circle cx="492.29" cy="202.80" r="1.68" fill="#f3c800" stroke="#bf9800" stroke-width="0.6"/>
<circle cx="492.29" cy="206.30" r="1.68" fill="#f3c800" stroke="#bf9800" stroke-width="0.6"/>
<line x1="483.30" y1="50.00" x2="501.28" y2="50.00" stroke="#262626" stroke-width="1.25" stroke-dasharray="3 1.25"/>
<line x1="483.30" y1="175.70" x2="501.28" y2="175.70" stroke="#262626" stroke-width="1.25" stroke-dasharray="3 1.25"/>
<line x1="484.35" y1="112.80" x2="500.23" y2="112.80" stroke="#111" stroke-width="1.7" stroke-linecap="round"/>
<circle cx="510.47" cy="51.80" r="1.68" fill="#f3c800" stroke="#bf9800" stroke-width="0.6"/>
<circle cx="510.47" cy="58.20" r="1.68" fill="#f3c800" stroke="#bf9800" stroke-width="0.6"/>
<circle cx="510.47" cy="67.70" r="1.68" fill="#f3c800" stroke="#bf9800" stroke-width="0.6"/>
<circle cx="510.47" cy="74.60" r="1.68" fill="#f3c800" stroke="#bf9800" stroke-width="0.6"/>
<circle cx="510.47" cy="97.70" r="1.68" fill="#f3c800" stroke="#bf9800" stroke-width="0.6"/>
<circle cx="510.47" cy="129.10" r="1.68" fill="#f3c800" stroke="#bf9800" stroke-width="0.6"/>
<circle cx="510.47" cy="162.60" r="1.68" fill="#f3c800" stroke="#bf9800" stroke-width="0.6"/>
<circle cx="510.47" cy="169.70" r="1.68" fill="#f3c800" stroke="#bf9800" stroke-width="0.6"/>
<circle cx="510.47" cy="171.30" r="1.68" fill="#f3c800" stroke="#bf9800" stroke-width="0.6"/>
<circle cx="510.47" cy="207.60" r="1.68" fill="#f3c800" stroke="#bf9800" stroke-width="0.6"/>
<circle cx="510.47" cy="209.90" r="1.68" fill="#f3c800" stroke="#bf9800" stroke-width="0.6"/>
<circle cx="510.47" cy="260.20" r="1.68" fill="#f3c800" stroke="#bf9800" stroke-width="0.6"/>
<line x1="501.48" y1="69.30" x2="519.46" y2="69.30" stroke="#262626" stroke-width="1.25" stroke-dasharray="3 1.25"/>
<line x1="501.48" y1="206.30" x2="519.46" y2="206.30" stroke="#262626" stroke-width="1.25" stroke-dasharray="3 1.25"/>
<line x1="502.53" y1="137.90" x2="518.41" y2="137.90" stroke="#111" stroke-width="1.7" stroke-linecap="round"/>
<circle cx="528.65" cy="53.60" r="1.68" fill="#f3c800" stroke="#bf9800" stroke-width="0.6"/>
<circle cx="528.65" cy="63.40" r="1.68" fill="#f3c800" stroke="#bf9800" stroke-width="0.6"/>
<circle cx="528.65" cy="66.10" r="1.68" fill="#f3c800" stroke="#bf9800" stroke-width="0.6"/>
<circle cx="528.65" cy="79.00" r="1.68" fill="#f3c800" stroke="#bf9800" stroke-width="0.6"/>
<circle cx="528.65" cy="97.20" r="1.68" fill="#f3c800" stroke="#bf9800" stroke-width="0.6"/>
<circle cx="528.65" cy="106.70" r="1.68" fill="#f3c800" stroke="#bf9800" stroke-width="0.6"/>
<circle cx="528.65" cy="132.80" r="1.68" fill="#f3c800" stroke="#bf9800" stroke-width="0.6"/>
<circle cx="528.65" cy="145.80" r="1.68" fill="#f3c800" stroke="#bf9800" stroke-width="0.6"/>
<circle cx="528.65" cy="184.00" r="1.68" fill="#f3c800" stroke="#bf9800" stroke-width="0.6"/>
<circle cx="528.65" cy="262.50" r="1.68" fill="#f3c800" stroke="#bf9800" stroke-width="0.6"/>
<line x1="519.66" y1="47.90" x2="537.64" y2="47.90" stroke="#262626" stroke-width="1.25" stroke-dasharray="3 1.25"/>
<line x1="519.66" y1="172.50" x2="537.64" y2="172.50" stroke="#262626" stroke-width="1.25" stroke-dasharray="3 1.25"/>
<line x1="520.71" y1="110.10" x2="536.59" y2="110.10" stroke="#111" stroke-width="1.7" stroke-linecap="round"/>
<circle cx="546.83" cy="57.20" r="1.68" fill="#f3c800" stroke="#bf9800" stroke-width="0.6"/>
<circle cx="546.83" cy="64.80" r="1.68" fill="#f3c800" stroke="#bf9800" stroke-width="0.6"/>
<circle cx="546.83" cy="66.40" r="1.68" fill="#f3c800" stroke="#bf9800" stroke-width="0.6"/>
<circle cx="546.83" cy="69.00" r="1.68" fill="#f3c800" stroke="#bf9800" stroke-width="0.6"/>
<circle cx="546.83" cy="104.00" r="1.68" fill="#f3c800" stroke="#bf9800" stroke-width="0.6"/>
<circle cx="546.83" cy="105.60" r="1.68" fill="#f3c800" stroke="#bf9800" stroke-width="0.6"/>
<circle cx="546.83" cy="113.10" r="1.68" fill="#f3c800" stroke="#bf9800" stroke-width="0.6"/>
<circle cx="546.83" cy="137.10" r="1.68" fill="#f3c800" stroke="#bf9800" stroke-width="0.6"/>
<circle cx="546.83" cy="170.20" r="1.68" fill="#f3c800" stroke="#bf9800" stroke-width="0.6"/>
<circle cx="546.83" cy="206.30" r="1.68" fill="#f3c800" stroke="#bf9800" stroke-width="0.6"/>
<circle cx="546.83" cy="209.50" r="1.68" fill="#f3c800" stroke="#bf9800" stroke-width="0.6"/>
<circle cx="546.83" cy="259.70" r="1.68" fill="#f3c800" stroke="#bf9800" stroke-width="0.6"/>
<line x1="537.84" y1="62.70" x2="555.82" y2="62.70" stroke="#262626" stroke-width="1.25" stroke-dasharray="3 1.25"/>
<line x1="537.84" y1="196.90" x2="555.82" y2="196.90" stroke="#262626" stroke-width="1.25" stroke-dasharray="3 1.25"/>
<line x1="538.89" y1="129.90" x2="554.77" y2="129.90" stroke="#111" stroke-width="1.7" stroke-linecap="round"/>
<circle cx="565.01" cy="56.10" r="1.68" fill="#f3c800" stroke="#bf9800" stroke-width="0.6"/>
<circle cx="565.01" cy="62.10" r="1.68" fill="#f3c800" stroke="#bf9800" stroke-width="0.6"/>
<circle cx="565.01" cy="65.80" r="1.68" fill="#f3c800" stroke="#bf9800" stroke-width="0.6"/>
<circle cx="565.01" cy="69.00" r="1.68" fill="#f3c800" stroke="#bf9800" stroke-width="0.6"/>
<circle cx="565.01" cy="88.90" r="1.68" fill="#f3c800" stroke="#bf9800" stroke-width="0.6"/>
<circle cx="565.01" cy="118.70" r="1.68" fill="#f3c800" stroke="#bf9800" stroke-width="0.6"/>
<circle cx="565.01" cy="126.00" r="1.68" fill="#f3c800" stroke="#bf9800" stroke-width="0.6"/>
<circle cx="565.01" cy="177.60" r="1.68" fill="#f3c800" stroke="#bf9800" stroke-width="0.6"/>
<circle cx="565.01" cy="181.80" r="1.68" fill="#f3c800" stroke="#bf9800" stroke-width="0.6"/>
<circle cx="565.01" cy="191.30" r="1.68" fill="#f3c800" stroke="#bf9800" stroke-width="0.6"/>
<line x1="556.02" y1="60.60" x2="574.00" y2="60.60" stroke="#262626" stroke-width="1.25" stroke-dasharray="3 1.25"/>
<line x1="556.02" y1="171.40" x2="574.00" y2="171.40" stroke="#262626" stroke-width="1.25" stroke-dasharray="3 1.25"/>
<line x1="557.07" y1="116.00" x2="572.95" y2="116.00" stroke="#111" stroke-width="1.7" stroke-linecap="round"/>
<circle cx="583.19" cy="51.30" r="1.68" fill="#f3c800" stroke="#bf9800" stroke-width="0.6"/>
<circle cx="583.19" cy="73.00" r="1.68" fill="#f3c800" stroke="#bf9800" stroke-width="0.6"/>
<circle cx="583.19" cy="85.80" r="1.68" fill="#f3c800" stroke="#bf9800" stroke-width="0.6"/>
<circle cx="583.19" cy="118.00" r="1.68" fill="#f3c800" stroke="#bf9800" stroke-width="0.6"/>
<circle cx="583.19" cy="137.00" r="1.68" fill="#f3c800" stroke="#bf9800" stroke-width="0.6"/>
<circle cx="583.19" cy="211.00" r="1.68" fill="#f3c800" stroke="#bf9800" stroke-width="0.6"/>
<line x1="574.20" y1="55.30" x2="592.18" y2="55.30" stroke="#262626" stroke-width="1.25" stroke-dasharray="3 1.25"/>
<line x1="574.20" y1="169.90" x2="592.18" y2="169.90" stroke="#262626" stroke-width="1.25" stroke-dasharray="3 1.25"/>
<line x1="575.25" y1="112.00" x2="591.13" y2="112.00" stroke="#111" stroke-width="1.7" stroke-linecap="round"/>
<circle cx="601.37" cy="70.90" r="1.68" fill="#f3c800" stroke="#bf9800" stroke-width="0.6"/>
<circle cx="601.37" cy="81.00" r="1.68" fill="#f3c800" stroke="#bf9800" stroke-width="0.6"/>
<circle cx="601.37" cy="88.30" r="1.68" fill="#f3c800" stroke="#bf9800" stroke-width="0.6"/>
<circle cx="601.37" cy="103.50" r="1.68" fill="#f3c800" stroke="#bf9800" stroke-width="0.6"/>
<circle cx="601.37" cy="110.40" r="1.68" fill="#f3c800" stroke="#bf9800" stroke-width="0.6"/>
<circle cx="601.37" cy="119.60" r="1.68" fill="#f3c800" stroke="#bf9800" stroke-width="0.6"/>
<line x1="592.38" y1="76.30" x2="610.36" y2="76.30" stroke="#262626" stroke-width="1.25" stroke-dasharray="3 1.25"/>
<line x1="592.38" y1="114.00" x2="610.36" y2="114.00" stroke="#262626" stroke-width="1.25" stroke-dasharray="3 1.25"/>
<line x1="593.43" y1="95.20" x2="609.31" y2="95.20" stroke="#111" stroke-width="1.7" stroke-linecap="round"/>
<circle cx="619.55" cy="42.10" r="1.68" fill="#f3c800" stroke="#bf9800" stroke-width="0.6"/>
<circle cx="619.55" cy="76.20" r="1.68" fill="#f3c800" stroke="#bf9800" stroke-width="0.6"/>
<circle cx="619.55" cy="107.20" r="1.68" fill="#f3c800" stroke="#bf9800" stroke-width="0.6"/>
<circle cx="619.55" cy="116.40" r="1.68" fill="#f3c800" stroke="#bf9800" stroke-width="0.6"/>
<circle cx="619.55" cy="166.30" r="1.68" fill="#f3c800" stroke="#bf9800" stroke-width="0.6"/>
<circle cx="619.55" cy="251.20" r="1.68" fill="#f3c800" stroke="#bf9800" stroke-width="0.6"/>
<line x1="610.56" y1="52.60" x2="628.54" y2="52.60" stroke="#262626" stroke-width="1.25" stroke-dasharray="3 1.25"/>
<line x1="610.56" y1="200.30" x2="628.54" y2="200.30" stroke="#262626" stroke-width="1.25" stroke-dasharray="3 1.25"/>
<line x1="611.61" y1="126.00" x2="627.49" y2="126.00" stroke="#111" stroke-width="1.7" stroke-linecap="round"/>
<circle cx="637.73" cy="43.30" r="1.68" fill="#f3c800" stroke="#bf9800" stroke-width="0.6"/>
<circle cx="637.73" cy="74.80" r="1.68" fill="#f3c800" stroke="#bf9800" stroke-width="0.6"/>
<circle cx="637.73" cy="82.30" r="1.68" fill="#f3c800" stroke="#bf9800" stroke-width="0.6"/>
<circle cx="637.73" cy="120.40" r="1.68" fill="#f3c800" stroke="#bf9800" stroke-width="0.6"/>
<circle cx="637.73" cy="133.60" r="1.68" fill="#f3c800" stroke="#bf9800" stroke-width="0.6"/>
<circle cx="637.73" cy="160.10" r="1.68" fill="#f3c800" stroke="#bf9800" stroke-width="0.6"/>
<line x1="628.74" y1="59.00" x2="646.72" y2="59.00" stroke="#262626" stroke-width="1.25" stroke-dasharray="3 1.25"/>
<line x1="628.74" y1="145.30" x2="646.72" y2="145.30" stroke="#262626" stroke-width="1.25" stroke-dasharray="3 1.25"/>
<line x1="629.79" y1="102.20" x2="645.67" y2="102.20" stroke="#111" stroke-width="1.7" stroke-linecap="round"/>
<circle cx="655.91" cy="71.80" r="1.68" fill="#f3c800" stroke="#bf9800" stroke-width="0.6"/>
<circle cx="655.91" cy="80.10" r="1.68" fill="#f3c800" stroke="#bf9800" stroke-width="0.6"/>
<circle cx="655.91" cy="102.70" r="1.68" fill="#f3c800" stroke="#bf9800" stroke-width="0.6"/>
<circle cx="655.91" cy="105.10" r="1.68" fill="#f3c800" stroke="#bf9800" stroke-width="0.6"/>
<circle cx="655.91" cy="151.40" r="1.68" fill="#f3c800" stroke="#bf9800" stroke-width="0.6"/>
<circle cx="655.91" cy="205.20" r="1.68" fill="#f3c800" stroke="#bf9800" stroke-width="0.6"/>
<line x1="646.92" y1="69.30" x2="664.90" y2="69.30" stroke="#262626" stroke-width="1.25" stroke-dasharray="3 1.25"/>
<line x1="646.92" y1="169.40" x2="664.90" y2="169.40" stroke="#262626" stroke-width="1.25" stroke-dasharray="3 1.25"/>
<line x1="647.97" y1="119.20" x2="663.85" y2="119.20" stroke="#111" stroke-width="1.7" stroke-linecap="round"/>
<circle cx="674.09" cy="38.90" r="1.68" fill="#f3c800" stroke="#bf9800" stroke-width="0.6"/>
<circle cx="674.09" cy="87.10" r="1.68" fill="#f3c800" stroke="#bf9800" stroke-width="0.6"/>
<circle cx="674.09" cy="92.30" r="1.68" fill="#f3c800" stroke="#bf9800" stroke-width="0.6"/>
<circle cx="674.09" cy="130.50" r="1.68" fill="#f3c800" stroke="#bf9800" stroke-width="0.6"/>
<circle cx="674.09" cy="144.50" r="1.68" fill="#f3c800" stroke="#bf9800" stroke-width="0.6"/>
<line x1="665.10" y1="56.90" x2="683.08" y2="56.90" stroke="#262626" stroke-width="1.25" stroke-dasharray="3 1.25"/>
<line x1="665.10" y1="140.20" x2="683.08" y2="140.20" stroke="#262626" stroke-width="1.25" stroke-dasharray="3 1.25"/>
<line x1="666.15" y1="98.40" x2="682.03" y2="98.40" stroke="#111" stroke-width="1.7" stroke-linecap="round"/>
</svg></body></html>
